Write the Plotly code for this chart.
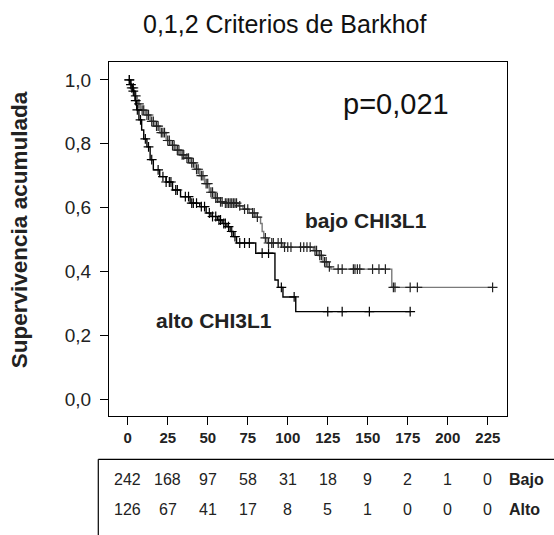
import numpy as np
import plotly.graph_objects as go

# ---- data ----
bajo_t = [0, 2, 4, 6, 8, 11, 14, 17, 20, 24, 27, 30, 33, 36, 39, 42, 45, 48, 51, 54,
          57, 60, 69, 72, 76, 80, 83, 84, 85, 87, 97, 116, 119, 122, 125, 127, 165]
bajo_s = [1.0, 0.975, 0.95, 0.925, 0.905, 0.89, 0.87, 0.855, 0.835, 0.81, 0.795, 0.78,
          0.765, 0.755, 0.74, 0.72, 0.70, 0.675, 0.648, 0.63, 0.618, 0.614, 0.605, 0.595,
          0.583, 0.57, 0.55, 0.525, 0.505, 0.489, 0.476, 0.465, 0.45, 0.43, 0.414, 0.407, 0.35]
bajo_end = 228
bajo_cens = [1, 2.5, 3.5, 5, 7, 9, 10, 12, 13, 15, 16, 18, 19, 21, 22, 23, 25, 26, 28, 29,
             31, 32, 34, 35, 37, 38, 40, 41, 43, 44, 46, 47, 49, 50, 52, 53, 55, 56, 58, 59,
             61, 62, 63, 64, 65, 66, 67, 68, 70, 73, 75, 78, 79, 81, 86, 88, 90, 91, 94, 96,
             98, 100, 102, 108, 110, 112, 114, 117, 118, 120, 121, 123, 124, 126, 131.5, 134,
             141, 142, 143.5, 145, 153, 157, 161, 166, 167, 176.5, 181, 228]

alto_t = [0, 1.5, 3, 4.5, 5.6, 7, 8.7, 10, 12, 14, 16, 20, 24, 28, 33, 39, 45, 49, 52, 56,
          59, 62, 64, 66, 68, 80, 92, 94, 97, 105]
alto_s = [1.0, 0.985, 0.965, 0.935, 0.906, 0.875, 0.843, 0.815, 0.79, 0.75, 0.718, 0.697,
          0.68, 0.655, 0.634, 0.614, 0.603, 0.583, 0.572, 0.561, 0.55, 0.54, 0.525, 0.509,
          0.489, 0.457, 0.373, 0.35, 0.32, 0.274]
alto_end = 176.5
alto_cens = [1, 2, 3.5, 5, 6, 8, 11, 13, 15, 19, 22, 24, 26, 27, 30, 31, 36, 38, 40, 41,
             43, 46, 48, 51, 53, 55, 57, 58, 60, 61, 63, 65, 67, 70, 73, 76, 84, 88, 96,
             104, 125, 134, 151, 176.5]

risk_times = [0, 25, 50, 75, 100, 125, 150, 175, 200, 225]
bajo_risk = [242, 168, 97, 58, 31, 18, 9, 2, 1, 0]
alto_risk = [126, 67, 41, 17, 8, 5, 1, 0, 0, 0]
row_labels = ["Bajo", "Alto"]

y_ticks = [0.0, 0.2, 0.4, 0.6, 0.8, 1.0]
y_ticktext = ["0,0", "0,2", "0,4", "0,6", "0,8", "1,0"]
x_ticks = [0, 25, 50, 75, 100, 125, 150, 175, 200, 225]

title = "0,1,2 Criterios de Barkhof"
y_title = "Supervivencia acumulada"
p_text = "p=0,021"
bajo_label = "bajo CHI3L1"
alto_label = "alto CHI3L1"

FONT = "Arial, Liberation Sans, Helvetica, sans-serif"


def step_at(ts, ss, t):
    idx = np.searchsorted(np.array(ts), np.array(t, dtype=float), side="right") - 1
    return np.array(ss)[idx]


fig = go.Figure()

for ts, ss, end, cens, lcol, mcol in [
    (bajo_t, bajo_s, bajo_end, bajo_cens, "#7a7a7a", "#222222"),
    (alto_t, alto_s, alto_end, alto_cens, "#000000", "#000000"),
]:
    xs = list(ts) + [end]
    ys = list(ss) + [ss[-1]]
    fig.add_trace(go.Scatter(x=xs, y=ys, mode="lines", line=dict(color=lcol, width=1.4, shape="hv"),
                             hoverinfo="skip", showlegend=False))
    fig.add_trace(go.Scatter(x=cens, y=step_at(ts, ss, cens), mode="markers",
                             marker=dict(symbol="cross-thin", size=7, line=dict(color=mcol, width=1.2)),
                             hoverinfo="skip", showlegend=False))

fig.update_layout(
    width=554, height=535,
    margin=dict(l=109, r=47, t=62, b=119),
    paper_bgcolor="white", plot_bgcolor="white",
    font=dict(family=FONT, color="black"),
    title=dict(text=title, x=0.514, xanchor="center", y=1 - 24 / 535, yanchor="middle",
               font=dict(size=25, family=FONT, color="#111111")),
    xaxis=dict(range=[-11.7, 237], tickvals=x_ticks, ticktext=[f"<b>{v}</b>" for v in x_ticks],
               ticks="outside", ticklen=8, tickcolor="black", showline=True, mirror=True,
               linecolor="black", linewidth=1, showgrid=False, zeroline=False,
               tickfont=dict(size=15, family=FONT, color="#222")),
    yaxis=dict(range=[-0.053, 1.056], tickvals=y_ticks, ticktext=y_ticktext,
               ticks="outside", ticklen=8, tickcolor="black", showline=True, mirror=True,
               linecolor="black", linewidth=1, showgrid=False, zeroline=False,
               ticklabelstandoff=5,
               tickfont=dict(size=19, family=FONT, color="#222")),
)

ann = []
ann.append(dict(text=f"<b>{y_title}</b>", xref="paper", yref="paper", x=-0.226, y=0.525,
                textangle=-90, showarrow=False, font=dict(size=22.5, family=FONT, color="#222"),
                xanchor="center", yanchor="middle"))
ann.append(dict(text=p_text, xref="x", yref="y", x=167.4, y=0.926, showarrow=False,
                font=dict(size=29, family=FONT, color="#111")))
ann.append(dict(text=f"<b>{bajo_label}</b>", xref="x", yref="y", x=149, y=0.558, showarrow=False,
                font=dict(size=21, family=FONT, color="#222")))
ann.append(dict(text=f"<b>{alto_label}</b>", xref="x", yref="y", x=53.9, y=0.246, showarrow=False,
                font=dict(size=21, family=FONT, color="#222")))

row_y = [-0.178, -0.2655]
for ry, risks, lab in zip(row_y, [bajo_risk, alto_risk], row_labels):
    for t, n in zip(risk_times, risks):
        ann.append(dict(text=str(n), xref="x", yref="paper", x=t, y=ry, showarrow=False,
                        xanchor="center", yanchor="middle",
                        font=dict(size=16, family=FONT, color="#222")))
    ann.append(dict(text=f"<b>{lab}</b>", xref="x", yref="paper", x=237, y=ry, showarrow=False,
                    xanchor="left", yanchor="middle", font=dict(size=16, family=FONT, color="#222")))
fig.update_layout(annotations=ann)

# risk table frame
fig.add_shape(type="line", xref="paper", yref="paper", x0=-0.0269, x1=1.3, y0=-0.1223, y1=-0.1223,
              line=dict(color="black", width=1.2))
fig.add_shape(type="line", xref="paper", yref="paper", x0=-0.0269, x1=-0.0269, y0=-0.1223, y1=-0.6,
              line=dict(color="black", width=1.2))

fig.write_html("out.html")
